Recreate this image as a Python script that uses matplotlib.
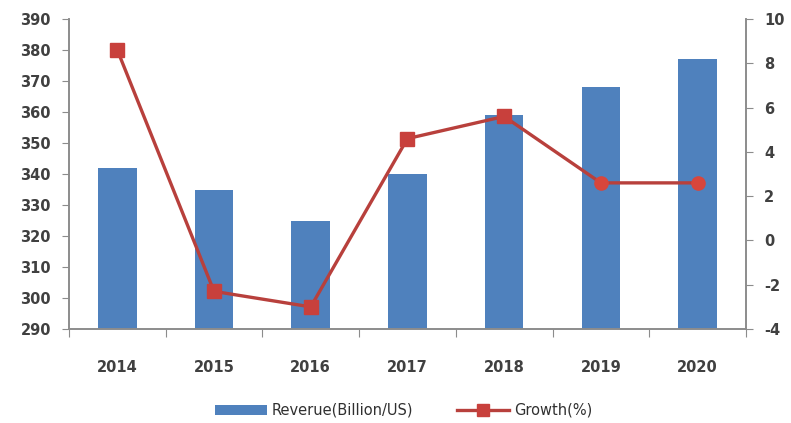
import matplotlib.pyplot as plt
import numpy as np

# data
years = ['2014', '2015', '2016', '2017', '2018', '2019', '2020']
revenue = [342, 335, 325, 340, 359, 368, 377]      # billion US$
growth = [8.6, -2.3, -3.0, 4.6, 5.6, 2.6, 2.6]      # %

bar_color = '#4F81BD'
line_color = '#B8403C'
marker_color = '#C8403C'
axis_color = '#8C8C8C'
text_color = '#404040'

plt.rcParams['axes.unicode_minus'] = False

fig = plt.figure(figsize=(7.91, 4.23), dpi=100)
ax = fig.add_axes([0.0872, 0.2222, 0.8558, 0.7328])
ax2 = ax.twinx()

x = np.arange(len(years))
bars = ax.bar(x, revenue, width=0.4, color=bar_color, zorder=2,
              label='Reverue(Billion/US)')
ax.set_ylim(290, 390)
ax.set_yticks(np.arange(290, 391, 10))
ax.set_xlim(-0.5, len(years) - 0.5)

# growth line: squares, last two points drawn as round markers
ax2.plot(x, growth, color=line_color, lw=2.4, zorder=3)
ax2.plot(x[:5], growth[:5], ls='none', marker='s', ms=9.5,
         color=marker_color, zorder=4)
ax2.plot(x[5:], growth[5:], ls='none', marker='o', ms=9.5,
         color='#D8463C', zorder=4)
line_handle, = ax2.plot([], [], color=line_color, lw=2.4, marker='s', ms=9,
                        markerfacecolor=marker_color, markeredgecolor=marker_color,
                        label='Growth(%)')
ax2.set_ylim(-4, 10)
ax2.set_yticks(np.arange(-4, 11, 2))

# x ticks between categories, labels centred on bars
ax.set_xticks(np.arange(-0.5, len(years), 1.0))
ax.set_xticklabels([])
ax.set_xticks(x, minor=True)
ax.set_xticklabels(years, minor=True)
ax.tick_params(axis='x', which='major', length=6, direction='out', color=axis_color)
ax.tick_params(axis='x', which='minor', length=0, pad=22, labelsize=10.5,
               labelcolor=text_color)
ax.tick_params(axis='y', length=5, direction='out', color=axis_color,
               labelsize=10.5, labelcolor=text_color, pad=8)
ax2.tick_params(axis='y', length=5, direction='out', color=axis_color,
                labelsize=10.5, labelcolor=text_color, pad=8)

for a in (ax, ax2):
    a.spines['top'].set_visible(False)
    for s in ('left', 'right', 'bottom'):
        a.spines[s].set_color(axis_color)
        a.spines[s].set_linewidth(1.2)

for lbl in ax.get_yticklabels(minor=False) + ax2.get_yticklabels() + ax.get_xticklabels(minor=True):
    lbl.set_fontweight('bold')

leg = fig.legend(handles=[bars, line_handle], loc='center',
                 bbox_to_anchor=(0.51, 0.03), ncol=2, frameon=False,
                 fontsize=10.5, handlelength=3.6, columnspacing=3.0,
                 handletextpad=0.3)
for t in leg.get_texts():
    t.set_color('#303030')

fig.savefig('out.png', dpi=100, facecolor='white')
